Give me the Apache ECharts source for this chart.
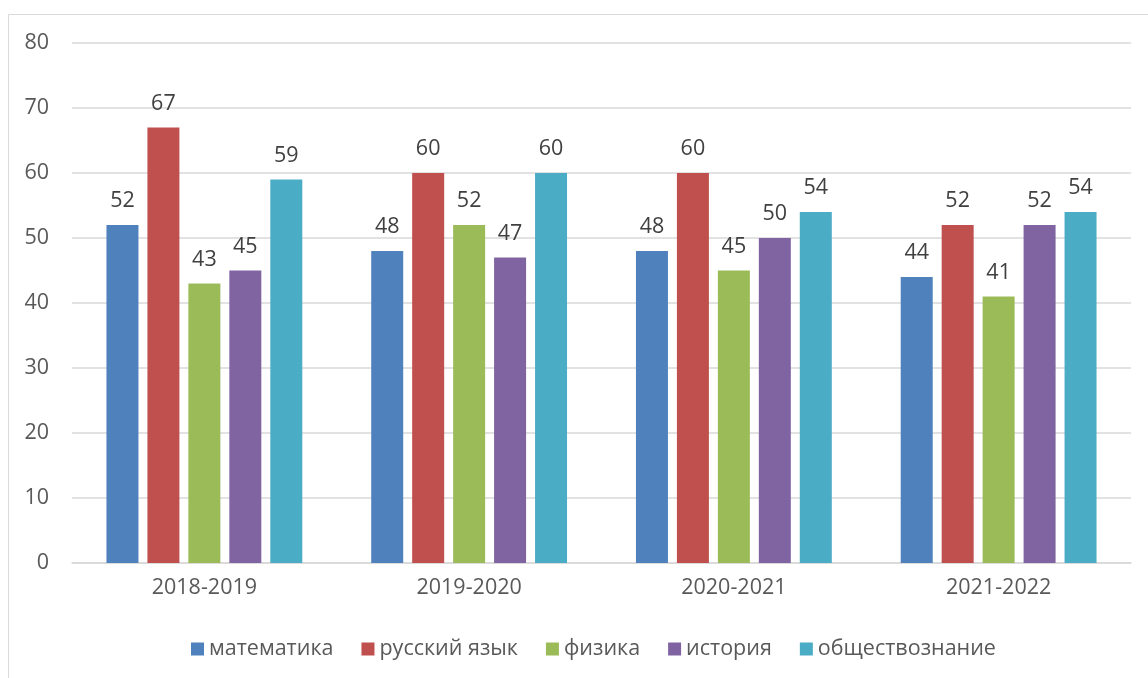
<!DOCTYPE html>
<html>
<head>
<meta charset="utf-8">
<script src="https://cdn.jsdelivr.net/npm/echarts@6/dist/echarts.min.js"></script>
<style>html,body{margin:0;padding:0;background:#fff}#c{width:1148px;height:678px}</style>
</head>
<body>
<div id="c"></div>
<script>
const categories = ['2018-2019', '2019-2020', '2020-2021', '2021-2022'];
const seriesNames = ['математика', 'русский язык', 'физика', 'история', 'обществознание'];
const math = [52, 48, 48, 44];
const russian = [67, 60, 60, 52];
const physics = [43, 52, 45, 41];
const history = [45, 47, 50, 52];
const social = [59, 60, 54, 54];
const yTicks = { min: 0, max: 80, interval: 10 };
const colors = ['#4F81BD', '#C0504D', '#9BBB59', '#8064A2', '#4BACC6'];

const values = [math, russian, physics, history, social];
const font = '"Open Sans", sans-serif';
const fs = 21.5;
const chart = echarts.init(document.getElementById('c'), null, { renderer: 'canvas' });
chart.setOption({
  animation: false,
  textStyle: { fontFamily: font },
  graphic: [{
    type: 'rect', silent: true,
    shape: { x: 8.5, y: 14.5, width: 1300, height: 800 },
    style: { fill: 'none', stroke: '#d9d9d9', lineWidth: 1 }
  }],
  grid: { left: 72, right: 17, top: 43, bottom: 115, containLabel: false },
  legend: {
    bottom: 13, left: 186,
    icon: 'rect', itemWidth: 13, itemHeight: 13, itemGap: 28,
    textStyle: { fontFamily: font, fontSize: fs, color: '#595959' },
    data: seriesNames
  },
  xAxis: {
    type: 'category', data: categories,
    axisLine: { lineStyle: { color: '#d9d9d9', width: 1.5 } },
    axisTick: { show: false },
    axisLabel: { fontFamily: font, fontSize: fs, color: '#595959', margin: 14 }
  },
  yAxis: {
    type: 'value', min: yTicks.min, max: yTicks.max, interval: yTicks.interval,
    axisLine: { show: false }, axisTick: { show: false },
    splitLine: { lineStyle: { color: '#d9d9d9', width: 1.5 } },
    axisLabel: { fontFamily: font, fontSize: fs, color: '#595959', margin: 23 }
  },
  series: seriesNames.map((n, i) => ({
    name: n, type: 'bar', data: values[i],
    barWidth: 32, barGap: '28%',
    itemStyle: { color: colors[i] },
    label: { show: true, position: 'top', distance: 13, fontFamily: font, fontSize: fs, color: '#404040' }
  }))
});
</script>
</body>
</html>
